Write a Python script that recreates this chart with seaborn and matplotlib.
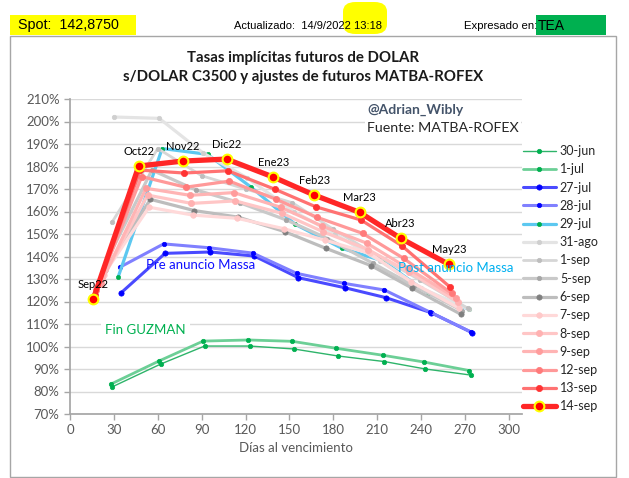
import numpy as np
import pandas as pd
import seaborn as sns
import matplotlib.pyplot as plt
from matplotlib.ticker import PercentFormatter, MultipleLocator
from matplotlib.patches import Rectangle, FancyBboxPatch

# dias al vencimiento de cada contrato, por fecha de curva
dias_30jun = [29, 62, 92, 123, 153, 183, 215, 243, 274]
dias_1jul = [28, 61, 91, 122, 152, 182, 214, 242, 273]
dias_27jul = [35, 65, 96, 126, 156, 188, 216, 247, 275]
dias_28jul = [34, 64, 95, 125, 155, 187, 215, 246, 274]
dias_29jul = [33, 63, 94, 124, 154, 186, 214, 245, 273]
dias_31ago = [30, 61, 91, 121, 153, 181, 212, 240, 273]
dias_1sep = [29, 60, 90, 120, 152, 180, 211, 239, 272]
dias_5sep = [25, 56, 86, 116, 148, 176, 207, 235, 268]
dias_6sep = [24, 55, 85, 115, 147, 175, 206, 234, 267]
dias_7sep = [23, 54, 84, 114, 146, 174, 205, 233, 266]
dias_8sep = [22, 53, 83, 113, 145, 173, 204, 232, 265]
dias_9sep = [21, 52, 82, 112, 144, 172, 203, 231, 264]
dias_12sep = [18, 49, 79, 109, 141, 169, 200, 228, 261]
dias_13sep = [17, 48, 78, 108, 140, 168, 199, 227, 260]
dias_14sep = [16, 47, 77, 107, 139, 167, 198, 226, 259]

# tasas implicitas (TEA, %)
tasa_30jun = [82.1, 92.2, 100.2, 100.2, 98.9, 95.8, 93.3, 90.0, 87.3]
tasa_1jul = [83.3, 93.6, 102.4, 102.9, 102.3, 99.2, 96.1, 93.1, 89.3]
tasa_27jul = [123.9, 141.4, 142.0, 140.2, 130.6, 126.1, 121.7, 115.0, 106.1]
tasa_28jul = [135.2, 145.6, 143.9, 141.5, 132.5, 128.1, 125.1, 115.3, 106.5]
tasa_29jul = [131.0, 188.0, 185.4, 170.7, 154.3, 143.6, 138.0, 123.6, 116.5]
tasa_31ago = [202.0, 201.4, 186.0, 175.0, 160.0, 150.0, 138.0, 126.0, 116.5]
tasa_1sep = [155.5, 188.0, 175.9, 170.0, 163.9, 152.1, 140.0, 129.6, 117.0]
tasa_5sep = [138.0, 178.4, 169.6, 163.9, 156.2, 148.0, 137.0, 127.0, 116.0]
tasa_6sep = [134.0, 165.4, 160.4, 157.5, 151.0, 143.6, 135.9, 125.9, 114.4]
tasa_7sep = [132.0, 161.9, 158.4, 157.0, 152.4, 147.3, 141.4, 128.8, 117.0]
tasa_8sep = [130.0, 167.3, 163.6, 164.7, 159.2, 151.0, 143.0, 133.0, 119.9]
tasa_9sep = [128.0, 170.3, 167.2, 168.4, 161.9, 153.6, 145.9, 134.8, 121.5]
tasa_12sep = [125.0, 175.5, 170.8, 173.5, 165.4, 157.4, 150.3, 139.2, 123.6]
tasa_13sep = [123.0, 178.4, 177.1, 178.1, 169.9, 162.1, 156.2, 144.7, 126.3]
tasa_14sep = [121.2, 180.2, 182.4, 183.3, 175.3, 167.3, 159.6, 148.1, 136.5]

contratos = ["Sep22", "Oct22", "Nov22", "Dic22", "Ene23", "Feb23",
             "Mar23", "Abr23", "May23"]

series = [
    ("30-jun", dias_30jun, tasa_30jun),
    ("1-jul", dias_1jul, tasa_1jul),
    ("27-jul", dias_27jul, tasa_27jul),
    ("28-jul", dias_28jul, tasa_28jul),
    ("29-jul", dias_29jul, tasa_29jul),
    ("31-ago", dias_31ago, tasa_31ago),
    ("1-sep", dias_1sep, tasa_1sep),
    ("5-sep", dias_5sep, tasa_5sep),
    ("6-sep", dias_6sep, tasa_6sep),
    ("7-sep", dias_7sep, tasa_7sep),
    ("8-sep", dias_8sep, tasa_8sep),
    ("9-sep", dias_9sep, tasa_9sep),
    ("12-sep", dias_12sep, tasa_12sep),
    ("13-sep", dias_13sep, tasa_13sep),
    ("14-sep", dias_14sep, tasa_14sep),
]

# color linea, ancho, color marcador, tamano marcador, borde marcador
estilos = {
    "30-jun": ("#2EB46A", 1.0, "#00B050", 3.2, "#00B050"),
    "1-jul": ("#6CCF96", 2.0, "#00B050", 3.2, "#00B050"),
    "27-jul": ("#4A4AFF", 2.2, "#0000FF", 3.8, "#0000FF"),
    "28-jul": ("#8080FF", 2.2, "#0000FF", 3.2, "#0000FF"),
    "29-jul": ("#5CC8F0", 2.3, "#00B050", 3, "#00B050"),
    "31-ago": ("#E4E4E4", 2.3, "#CFCFCF", 3.2, "#CFCFCF"),
    "1-sep": ("#D6D6D6", 2.0, "#BDBDBD", 3.2, "#BDBDBD"),
    "5-sep": ("#C9C9C9", 2.3, "#A6A6A6", 3.2, "#A6A6A6"),
    "6-sep": ("#BDBDBD", 2.3, "#7F7F7F", 3.8, "#7F7F7F"),
    "7-sep": ("#FFD9D9", 2.3, "#FFC9C9", 4, "#FFC9C9"),
    "8-sep": ("#FFC6C6", 2.3, "#FFB1B1", 4.5, "#FFB1B1"),
    "9-sep": ("#FFB4B4", 2.3, "#FF9C9C", 4.5, "#FF9C9C"),
    "12-sep": ("#FF9999", 2.3, "#FF7A7A", 4.5, "#FF7A7A"),
    "13-sep": ("#FF7272", 2.3, "#FF3333", 4.5, "#FF3333"),
    "14-sep": ("#FF2626", 3.8, "#FF0000", 7, "#FFFF00"),
}

sns.set_theme(style="white")
plt.rcParams['font.family'] = ['Lato', 'DejaVu Sans']

W, H = 629, 478
fig = plt.figure(figsize=(W / 100, H / 100), dpi=100)


def fx(px):
    return px / W


def fy(py):
    return 1 - py / H


ax = fig.add_axes([fx(70), fy(414), fx(522) - fx(70), fy(99) - fy(414)])

for nombre, dias, tasa in series:
    c, lw, mc, ms, mec = estilos[nombre]
    sns.lineplot(x=dias, y=tasa, ax=ax, color=c, linewidth=lw, marker="o",
                 markersize=ms, markerfacecolor=mc, markeredgecolor=mec,
                 markeredgewidth=1.5 if nombre == "14-sep" else 0.5,
                 label=nombre, sort=False)

if ax.get_legend() is not None:
    ax.get_legend().remove()

# etiquetas de contratos sobre la curva del 14-sep
for d, t, lab in zip(dias_14sep, tasa_14sep, contratos):
    ax.annotate(lab, (d, t), xytext=(0, 6.5), textcoords="offset points",
                ha="center", va="bottom", fontsize=8, color="black")

ax.set_xlim(0, 309)
ax.set_ylim(70, 210)
ax.xaxis.set_major_locator(MultipleLocator(30))
ax.yaxis.set_major_locator(MultipleLocator(10))
ax.yaxis.set_major_formatter(PercentFormatter(100, decimals=0))
ax.grid(axis="y", color="#D9D9D9", linewidth=1)
ax.grid(axis="x", visible=False)
for s in ["top", "right"]:
    ax.spines[s].set_visible(False)
for s in ["left", "bottom"]:
    ax.spines[s].set_color("#A6A6A6")
ax.tick_params(axis="both", colors="#595959", labelsize=9.5, length=4,
               width=1, direction="out", bottom=True, left=True)
ax.tick_params(axis="both", color="#A6A6A6")
ax.set_xlabel("Días al vencimiento", fontsize=9.5, color="#595959")
ax.set_ylabel("")

ax.text(52, 136.2, "Pre anuncio Massa", color="#1010FF", fontsize=9.5,
        va="center", ha="left")
ax.text(224, 134.9, "Post anuncio Massa", color="#00B0F0", fontsize=9.5,
        va="center", ha="left")
ax.text(24, 107.3, "Fin GUZMAN", color="#00B050", fontsize=9.5, va="center",
        ha="left", bbox=dict(fc="white", ec="none", pad=3))
ax.text(203, 205.1, "@Adrian_Wibly", color="#44546A", fontsize=10,
        fontweight="bold", va="center", ha="left")
ax.text(203, 197.1, "Fuente: MATBA-ROFEX", color="#262626", fontsize=10.3,
        va="center", ha="left", bbox=dict(fc="white", ec="none", pad=1.5))

# leyenda
handles, labels = ax.get_legend_handles_labels()
fig.legend(handles, labels, loc="upper left",
           bbox_to_anchor=(fx(523), fy(145)), frameon=False, fontsize=9,
           handlelength=2.6, handletextpad=0.35, labelspacing=0.5,
           borderaxespad=0, borderpad=0)

# titulo
fig.text(fx(303), fy(58), "Tasas implícitas futuros de DOLAR", ha="center",
         va="center", fontsize=10.8, fontweight="bold", color="#1A1A1A")
fig.text(fx(303), fy(77), "s/DOLAR C3500 y ajustes de futuros MATBA-ROFEX",
         ha="center", va="center", fontsize=10.8, fontweight="bold",
         color="#1A1A1A")

# marco del grafico
fig.patches.append(Rectangle((fx(10), fy(477)), fx(616) - fx(10),
                             fy(36) - fy(477), transform=fig.transFigure,
                             fill=False, ec="#A6A6A6", lw=1))

# encabezado
fig.patches.append(Rectangle((fx(10), fy(35)), fx(136) - fx(10),
                             fy(14.5) - fy(35), transform=fig.transFigure,
                             fc="#FFFF00", ec="none"))
fig.patches.append(FancyBboxPatch((fx(343), fy(34)), fx(387) - fx(343),
                                  fy(2) - fy(34),
                                  boxstyle="round,pad=0,rounding_size=0.02",
                                  transform=fig.transFigure, fc="#FFFF00",
                                  ec="none", mutation_aspect=1))
fig.patches.append(Rectangle((fx(535.5), fy(35)), fx(605.7) - fx(535.5),
                             fy(14.5) - fy(35), transform=fig.transFigure,
                             fc="#00B050", ec="none"))
fig.text(fx(18.5), fy(25.5), "Spot:  142,8750", fontsize=10.3,
         family="Liberation Sans", va="center", ha="left", color="black")
fig.text(fx(234), fy(26), "Actualizado:  14/9/2022 13:18", fontsize=8,
         family="Liberation Sans", va="center", ha="left", color="black")
fig.text(fx(464.5), fy(26), "Expresado en:", fontsize=8.2,
         family="Liberation Sans", va="center", ha="left", color="black")
fig.text(fx(538), fy(25.5), "TEA", fontsize=10, family="Liberation Sans",
         va="center", ha="left", color="black")

fig.savefig("out.png", dpi=100)
